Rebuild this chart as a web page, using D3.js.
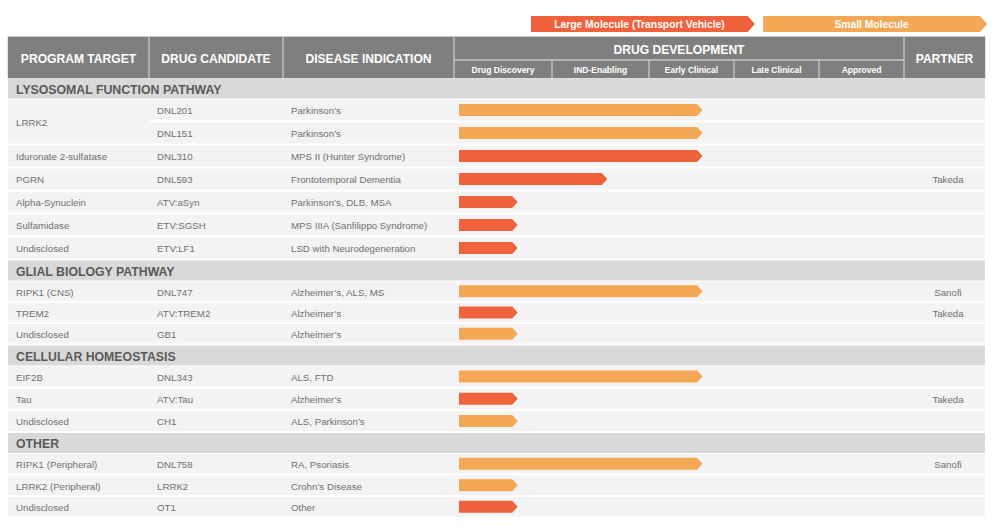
<!DOCTYPE html>
<html>
<head>
<meta charset="utf-8">
<script src="https://cdn.jsdelivr.net/npm/d3@7"></script>
<style>
  html, body { margin: 0; padding: 0; background: #ffffff; }
  svg { display: block; font-family: "Liberation Sans", Arial, Helvetica, sans-serif; }
</style>
</head>
<body>
<svg id="chart" width="1002" height="528"></svg>
<script>
// ---------------- DATA ----------------
const sections = ["LYSOSOMAL FUNCTION PATHWAY", "GLIAL BIOLOGY PATHWAY", "CELLULAR HOMEOSTASIS", "OTHER"];
const stages = ["Drug Discovery", "IND-Enabling", "Early Clinical", "Late Clinical", "Approved"];
const columnTitles = ["PROGRAM TARGET", "DRUG CANDIDATE", "DISEASE INDICATION", "DRUG DEVELOPMENT", "PARTNER"];
const legendLabels = ["Large Molecule (Transport Vehicle)", "Small Molecule"];
const moleculeKinds = ["large", "small"];

const rowSection = [0, 0, 0, 0, 0, 0, 0, 1, 1, 1, 2, 2, 2, 3, 3, 3];
const programTargets = ["LRRK2", "LRRK2", "Iduronate 2-sulfatase", "PGRN", "Alpha-Synuclein", "Sulfamidase", "Undisclosed",
  "RIPK1 (CNS)", "TREM2", "Undisclosed",
  "EIF2B", "Tau", "Undisclosed",
  "RIPK1 (Peripheral)", "LRRK2 (Peripheral)", "Undisclosed"];
const drugCandidates = ["DNL201", "DNL151", "DNL310", "DNL593", "ATV:aSyn", "ETV:SGSH", "ETV:LF1",
  "DNL747", "ATV:TREM2", "GB1",
  "DNL343", "ATV:Tau", "CH1",
  "DNL758", "LRRK2", "OT1"];
const indications = ["Parkinson\u2019s", "Parkinson\u2019s", "MPS II (Hunter Syndrome)", "Frontotemporal Dementia", "Parkinson\u2019s, DLB, MSA", "MPS IIIA (Sanfilippo Syndrome)", "LSD with Neurodegeneration",
  "Alzheimer\u2019s, ALS, MS", "Alzheimer\u2019s", "Alzheimer\u2019s",
  "ALS, FTD", "Alzheimer\u2019s", "ALS, Parkinson\u2019s",
  "RA, Psoriasis", "Crohn\u2019s Disease", "Other"];
const partners = ["", "", "", "Takeda", "", "", "",
  "Sanofi", "Takeda", "",
  "", "Takeda", "",
  "Sanofi", "", ""];
const moleculeType = ["small", "small", "large", "large", "large", "large", "large",
  "small", "large", "small",
  "small", "large", "small",
  "small", "small", "large"];
// progress measured in stage units (0 = start of Drug Discovery, 5 = end of Approved)
const progress = [2.63, 2.63, 2.63, 1.57, 0.65, 0.65, 0.65,
  2.63, 0.65, 0.65,
  2.63, 0.65, 0.65,
  2.63, 0.65, 0.65];

// ---------------- LAYOUT ----------------
const svg = d3.select("#chart");
const colors = { large: "#f0623c", small: "#f4a755" };
const headDark = "#7f7f7f", lineLight = "#c9c9c9", sectionGray = "#d9d9d9", rowFill = "#f2f3f2";
const textGray = "#707070", sectionText = "#595959";

const tableLeft = 8, tableRight = 985;
const colEdges = [tableLeft, 149, 283, 454, 904, tableRight];
const headTop = 37, headMid = 60, headBottom = 78;
const sectionH = 20;
const rowPitch = [23, 21.3, 22.2, 21.5];
const rowGap = 2;

// x scale for development stages (piecewise linear through stage column edges)
const stageEdges = [454, 552, 649, 734, 819, 904];
const x = d3.scaleLinear().domain(d3.range(stages.length + 1)).range(stageEdges);

// ---------- Legend ----------
const legendX = d3.scaleBand().domain(moleculeKinds).range([531, 987]).paddingInner(0.036);
const legendTop = 16, legendH = 16, legendTip = 7;
const lg = svg.append("g");
moleculeKinds.forEach((k, i) => {
  const x0 = legendX(k), x1 = x0 + legendX.bandwidth();
  lg.append("path")
    .attr("d", `M${x0},${legendTop}H${x1 - legendTip}L${x1},${legendTop + legendH / 2}L${x1 - legendTip},${legendTop + legendH}H${x0}Z`)
    .attr("fill", colors[k]);
  lg.append("text")
    .attr("x", (x0 + x1 - legendTip) / 2)
    .attr("y", legendTop + legendH / 2)
    .attr("dy", "0.35em")
    .attr("text-anchor", "middle")
    .attr("fill", "#ffffff")
    .attr("font-weight", "bold")
    .attr("font-size", 10.3)
    .text(legendLabels[i]);
});

// ---------- Header ----------
const hg = svg.append("g");
hg.append("rect").attr("x", tableLeft - 0.5).attr("y", headTop - 1)
  .attr("width", tableRight - tableLeft + 1).attr("height", headBottom - headTop + 1.5)
  .attr("fill", lineLight);
hg.append("rect").attr("x", tableLeft).attr("y", headTop)
  .attr("width", tableRight - tableLeft).attr("height", headBottom - headTop)
  .attr("fill", headDark);
[149, 283, 454, 904].forEach(v => {
  hg.append("line").attr("x1", v).attr("x2", v).attr("y1", headTop).attr("y2", headBottom)
    .attr("stroke", lineLight).attr("stroke-width", 1.3);
});
hg.append("line").attr("x1", 454).attr("x2", 904).attr("y1", headMid).attr("y2", headMid)
  .attr("stroke", lineLight).attr("stroke-width", 1.3);
stageEdges.slice(1, -1).forEach(v => {
  hg.append("line").attr("x1", v).attr("x2", v).attr("y1", headMid).attr("y2", headBottom)
    .attr("stroke", lineLight).attr("stroke-width", 1.3);
});
const titleCenters = [
  [(colEdges[0] + colEdges[1]) / 2, (headTop + headBottom) / 2],
  [(colEdges[1] + colEdges[2]) / 2, (headTop + headBottom) / 2],
  [(colEdges[2] + colEdges[3]) / 2, (headTop + headBottom) / 2],
  [(colEdges[3] + colEdges[4]) / 2, (headTop + headMid) / 2],
  [(colEdges[4] + colEdges[5]) / 2, (headTop + headBottom) / 2]
];
columnTitles.forEach((t, i) => {
  hg.append("text")
    .attr("x", titleCenters[i][0]).attr("y", titleCenters[i][1] + 1)
    .attr("dy", "0.35em").attr("text-anchor", "middle")
    .attr("fill", "#ffffff").attr("font-weight", "bold")
    .attr("font-size", 12.1)
    .text(t);
});
stages.forEach((s, i) => {
  hg.append("text")
    .attr("x", (x(i) + x(i + 1)) / 2).attr("y", (headMid + headBottom) / 2 + 1)
    .attr("dy", "0.35em").attr("text-anchor", "middle")
    .attr("fill", "#ffffff").attr("font-weight", "bold").attr("font-size", 8.5)
    .text(s);
});

// ---------- Body ----------
const bg = svg.append("g");
let y = headBottom + 0.5;
const rowBoxes = [];
sections.forEach((sec, si) => {
  bg.append("rect").attr("x", tableLeft).attr("y", y)
    .attr("width", tableRight - tableLeft).attr("height", sectionH).attr("fill", sectionGray);
  bg.append("text").attr("x", 16).attr("y", y + sectionH / 2 + 1).attr("dy", "0.35em")
    .attr("fill", sectionText).attr("font-weight", "bold").attr("font-size", 12.3)
    .text(sec);
  y += sectionH + 1;
  d3.range(rowSection.length).filter(r => rowSection[r] === si).forEach(r => {
    rowBoxes[r] = { top: y, h: rowPitch[si] - rowGap };
    y += rowPitch[si];
  });
});

const rows = d3.range(rowSection.length);
const mergeStart = rows.map(r => r === 0 || programTargets[r] !== programTargets[r - 1] || rowSection[r] !== rowSection[r - 1]);
rows.forEach(r => {
  const b = rowBoxes[r];
  bg.append("rect").attr("x", colEdges[1]).attr("y", b.top)
    .attr("width", tableRight - colEdges[1]).attr("height", b.h).attr("fill", rowFill);
  if (mergeStart[r]) {
    let end = r;
    while (end + 1 < rows.length && !mergeStart[end + 1]) end++;
    const bEnd = rowBoxes[end];
    bg.append("rect").attr("x", tableLeft).attr("y", b.top)
      .attr("width", colEdges[1] - tableLeft + 1).attr("height", bEnd.top + bEnd.h - b.top).attr("fill", rowFill);
    bg.append("text").attr("x", 16).attr("y", (b.top + bEnd.top + bEnd.h) / 2 + 1).attr("dy", "0.35em")
      .attr("fill", textGray).attr("font-size", 9.7).text(programTargets[r]);
  }
  const cy = b.top + b.h / 2;
  const ty = cy + 1;
  bg.append("text").attr("x", 157).attr("y", ty).attr("dy", "0.35em")
    .attr("fill", textGray).attr("font-size", 9.7).text(drugCandidates[r]);
  bg.append("text").attr("x", 291).attr("y", ty).attr("dy", "0.35em")
    .attr("fill", textGray).attr("font-size", 9.7).text(indications[r]);
  if (partners[r]) {
    bg.append("text").attr("x", (colEdges[4] + colEdges[5]) / 2 + 3.5).attr("y", ty).attr("dy", "0.35em")
      .attr("text-anchor", "middle").attr("fill", textGray).attr("font-size", 9.7).text(partners[r]);
  }
  const barH = 12, tip = 5.5;
  const x0 = x(0) + 5, x1 = x(progress[r]);
  const top = cy - barH / 2;
  bg.append("path")
    .attr("d", `M${x0},${top}H${x1 - tip}L${x1},${cy}L${x1 - tip},${top + barH}H${x0}Z`)
    .attr("fill", colors[moleculeType[r]]);
});
</script>
</body>
</html>
